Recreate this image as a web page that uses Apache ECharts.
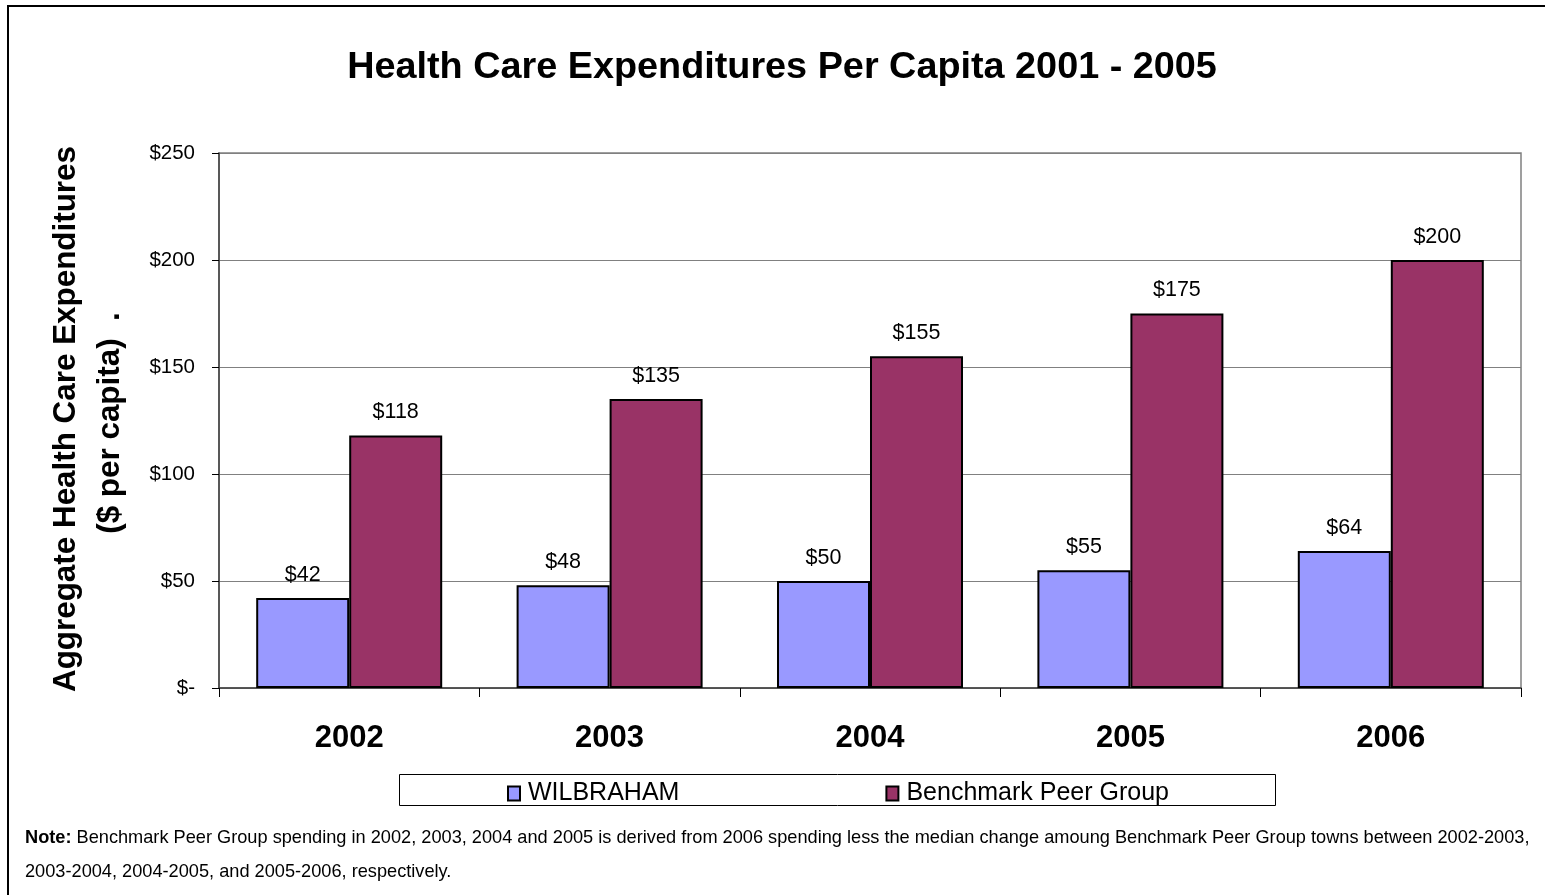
<!DOCTYPE html>
<html>
<head>
<meta charset="utf-8">
<script src="https://cdn.jsdelivr.net/npm/echarts@6/dist/echarts.min.js"></script>
<style>
  html, body { margin: 0; padding: 0; background: #fff; }
  #chart { width: 1545px; height: 895px; }
</style>
</head>
<body>
<div id="chart"></div>
<script>
// Chart data
const years = ['2002', '2003', '2004', '2005', '2006'];
const wilbraham = [42, 48, 50, 55, 64];
const peerGroup = [118, 135, 155, 175, 200];
const seriesNames = ['WILBRAHAM', 'Benchmark Peer Group'];
const yTicks = { min: 0, max: 250, interval: 50 };

const FONT = '"Liberation Sans", Arial, sans-serif';

function money(v) {
  return v === 0 ? '$-' : '$' + v;
}

const chart = echarts.init(document.getElementById('chart'), null, { renderer: 'canvas' });

const barLabel = {
  show: true,
  position: 'top',
  distance: 12,
  color: '#000',
  fontFamily: FONT,
  fontSize: 21.5,
  formatter: p => money(p.value)
};

chart.setOption({
  backgroundColor: '#fff',
  animation: false,
  title: {
    text: 'Health Care Expenditures Per Capita 2001 - 2005',
    left: 777,
    textAlign: 'center',
    top: 44,
    textStyle: { fontFamily: FONT, fontSize: 37.8, fontWeight: 'bold', color: '#000' }
  },
  grid: {
    left: 219, right: 24, top: 153, bottom: 207,
    show: true, borderColor: '#808080', borderWidth: 1.5, backgroundColor: '#fff'
  },
  legend: {
    left: 502,
    top: 776,
    itemGap: 206,
    itemWidth: 12,
    itemHeight: 14,
    icon: 'rect',
    textStyle: { fontFamily: FONT, fontSize: 25, color: '#000', padding: [0, 0, 0, 3] },
    data: seriesNames
  },
  xAxis: {
    type: 'category',
    data: years,
    axisLine: { lineStyle: { color: '#404040', width: 1.5 } },
    axisTick: { show: true, length: 9, lineStyle: { color: '#000' } },
    axisLabel: { margin: 35, fontFamily: FONT, fontSize: 31, fontWeight: 'bold', color: '#000' }
  },
  yAxis: {
    type: 'value',
    min: yTicks.min,
    max: yTicks.max,
    interval: yTicks.interval,
    axisLine: { show: true, lineStyle: { color: '#404040', width: 1.5 } },
    axisTick: { show: true, length: 7, lineStyle: { color: '#000' } },
    axisLabel: { margin: 24, fontFamily: FONT, fontSize: 20.5, color: '#000', formatter: money },
    splitLine: { show: true, lineStyle: { color: '#808080', width: 1.2 } }
  },
  series: [
    {
      name: seriesNames[0],
      type: 'bar',
      data: wilbraham,
      barWidth: 93,
      barGap: '0%',
      itemStyle: { color: '#9999FF', borderColor: '#000', borderWidth: 2 },
      label: barLabel
    },
    {
      name: seriesNames[1],
      type: 'bar',
      data: peerGroup,
      barWidth: 93,
      barGap: '0%',
      itemStyle: { color: '#993366', borderColor: '#000', borderWidth: 2 },
      label: barLabel
    }
  ],
  graphic: [
    // outer frame
    {
      type: 'rect', z: -1, silent: true,
      shape: { x: 8, y: 6, width: 1560, height: 920 },
      style: { fill: null, stroke: '#000', lineWidth: 2 }
    },
    // legend box
    {
      type: 'rect', z: 0, silent: true,
      shape: { x: 399.5, y: 774.5, width: 876, height: 31 },
      style: { fill: null, stroke: '#000', lineWidth: 1 }
    },
    // y-axis title
    {
      type: 'text', silent: true,
      x: 66, y: 419, rotation: Math.PI / 2,
      style: {
        text: 'Aggregate Health Care Expenditures',
        fontFamily: FONT, fontSize: 31.4, fontWeight: 'bold', fill: '#000',
        textAlign: 'center', textVerticalAlign: 'middle'
      }
    },
    {
      type: 'text', silent: true,
      x: 110, y: 423, rotation: Math.PI / 2,
      style: {
        text: '($ per capita)  .',
        fontFamily: FONT, fontSize: 31.4, fontWeight: 'bold', fill: '#000',
        textAlign: 'center', textVerticalAlign: 'middle'
      }
    },
    // footnote
    {
      type: 'text', silent: true,
      x: 25, y: 821,
      style: {
        text: '{b|Note:} Benchmark Peer Group spending in 2002, 2003, 2004 and 2005 is derived from 2006 spending less the median change amoung Benchmark Peer Group towns between 2002-2003,\n2003-2004, 2004-2005, and 2005-2006, respectively.',
        fontFamily: FONT, fontSize: 18.2, fill: '#000', lineHeight: 34,
        textVerticalAlign: 'top',
        rich: {
          b: { fontFamily: FONT, fontSize: 18.2, fontWeight: 'bold', fill: '#000', lineHeight: 34 }
        }
      }
    }
  ]
});
</script>
</body>
</html>
